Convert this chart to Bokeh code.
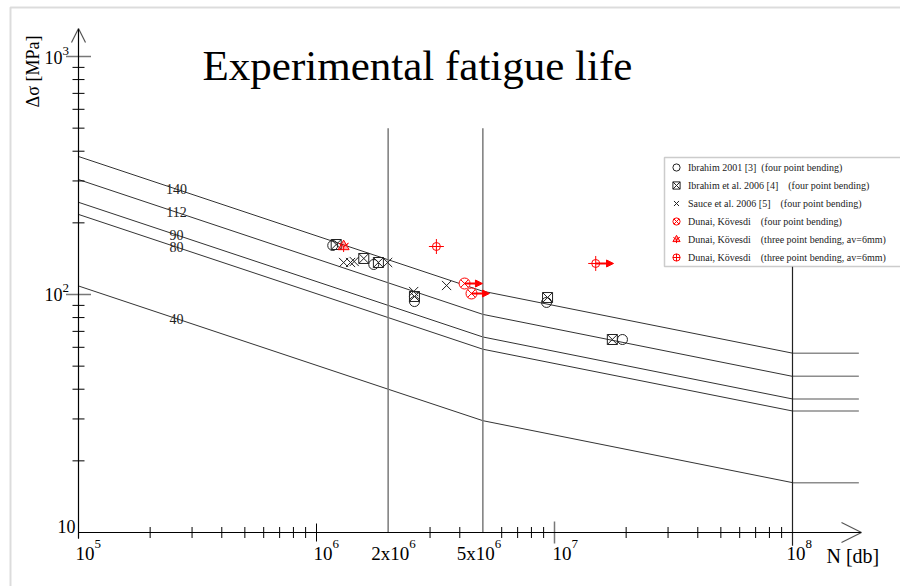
import math
from bokeh.plotting import figure
from bokeh.models import (Range1d, LogScale, Arrow, OpenHead, NormalHead, Legend,
                          LegendItem, BoxAnnotation)
from bokeh.core.properties import value
from bokeh.embed import file_html
from bokeh.resources import INLINE

# ---------------- data ----------------
# Detail categories (stress range at 2x10^6 cycles) and their S-N curves
categories = ["140", "112", "90", "80", "40"]
curve_N = [1e5, 2e6, 5e6, 1e8]          # knee points of the curves
cutoff_N = [1e8, 1.9e8]                 # horizontal cut-off part
S140 = [380.0, 140.0, 103.2, 56.7]
S112 = [304.0, 112.0, 82.5, 45.3]
S90 = [244.0, 90.0, 66.3, 36.4]
S80 = [217.0, 80.0, 58.9, 32.4]
S40 = [108.6, 40.0, 29.5, 16.2]
curves = [S140, S112, S90, S80, S40]
label_N = 2.58e5
label_S = [277.0, 222.0, 178.0, 158.0, 79.0]

# reference lines
ref_N = [2e6, 5e6]
ref_S = [10.0, 500.0]
end_N = 1e8
end_S = [8.8, 131.0]

# test results
ibr01_N = [1.17e6, 1.74e6, 2.58e6, 9.26e6, 1.93e7]
ibr01_S = [160.7, 133.7, 93.4, 92.6, 64.7]
ibr06_N = [1.21e6, 1.58e6, 1.82e6, 2.58e6, 9.35e6, 1.75e7]
ibr06_S = [162.2, 141.7, 136.3, 98.1, 97.1, 64.7]
sauce_N = [1.30e6, 1.39e6, 1.44e6, 1.99e6, 2.56e6, 3.52e6]
sauce_S = [136.3, 136.3, 137.6, 136.3, 102.9, 109.1]
dk4_N = [4.19e6, 4.48e6]
dk4_S = [111.2, 101.0]
dk3a_N = [1.30e6]
dk3a_S = [159.1]
dk3b_N = [3.19e6, 1.49e7]
dk3b_S = [159.1, 135.0]
# run-outs (arrows)
run_N0 = [4.19e6, 4.48e6, 1.49e7]
run_N1 = [4.98e6, 5.33e6, 1.77e7]
run_S = [111.2, 101.0, 135.0]

# axis ticks
x_major = [1e5, 1e6, 1e7, 1e8]
x_minor = [k * 10 ** e for e in (5, 6, 7) for k in range(2, 10) if k * 10 ** e not in (2e6, 5e6)]
y_minor = [k * 10 ** e for e in (1, 2) for k in range(2, 10)]
y_major = [100.0, 1000.0]

# ---------------- layout (pixels) ----------------
W, H = 900, 586
PX = 238.0           # pixels per decade
X0, Y0 = 78.0, 532.0  # pixel of N=1e5 and of S=10

def nx(px):
    return 10 ** (5 + (px - X0) / PX)

def sy(py):
    return 10 ** (1 + (Y0 - py) / PX)

FNAME = "Liberation Serif"
FONT = value(FNAME)

p = figure(width=W, height=H, output_backend="svg", toolbar_location=None,
           x_axis_type="log", y_axis_type="log",
           x_axis_location=None, y_axis_location=None,
           x_range=Range1d(nx(0), nx(W)), y_range=Range1d(sy(H), sy(0)),
           min_border=0, background_fill_color="white", border_fill_color="white")
p.x_scale = LogScale()
p.y_scale = LogScale()
p.grid.visible = False
p.outline_line_color = None

# slide frame
p.add_layout(BoxAnnotation(left=nx(10), right=1e12, top=sy(7), bottom=1e-3,
                           fill_alpha=0, line_color="#8a8a8a", line_width=2))

# ---------------- S-N curves ----------------
for S in curves:
    p.line(curve_N, S, line_color="#333333", line_width=1)
    p.line(cutoff_N, [S[-1], S[-1]], line_color="#8c8c8c", line_width=1.5)
p.text([label_N] * len(categories), label_S, text=categories, text_font=FONT,
       text_font_size="14px", text_align="center", text_baseline="middle", text_color="#222")

# reference verticals
for n in ref_N:
    p.line([n, n], ref_S, line_color="#7a7a7a", line_width=1.5)
p.line([end_N, end_N], end_S, line_color="#222", line_width=1.2)

# ---------------- axes ----------------
p.line([1e5, 1e5], [sy(Y0 + 6), 10], line_color="black", line_width=1.2)
p.add_layout(Arrow(x_start=1e5, y_start=10, x_end=nx(861), y_end=10,
                   line_color="black", line_width=1.2,
                   end=OpenHead(size=20, line_color="#555", line_width=1.2)))
p.add_layout(Arrow(x_start=1e5, y_start=10, x_end=1e5, y_end=sy(28),
                   line_color="black", line_width=1.2,
                   end=OpenHead(size=14, line_color="#555", line_width=1.2)))
p.scatter(x_minor, [10] * len(x_minor), marker="dash", angle=math.pi / 2, size=11,
          line_color="black", line_width=1)
p.scatter([1e5], [10], marker="dash", angle=math.pi / 2, size=12, line_color="black")
p.scatter([1e6], [10], marker="dash", angle=math.pi / 2, size=18, line_color="black")
p.scatter([1e7], [10], marker="dash", angle=math.pi / 2, size=22, line_color="#777", line_width=1.5)
p.scatter([1e5] * len(y_minor), y_minor, marker="dash", size=12, line_color="black")
p.scatter([1e5] * len(y_major), y_major, marker="dash", size=25, line_color="#777", line_width=1.5)

# x tick labels
xl_N = [1e5, 1e6, 2e6, 5e6, 1e7, 1e8]
xl_base = ["10", "10", "2x10", "5x10", "10", "10"]
xl_exp = ["5", "6", "6", "6", "7", "8"]
xl_off = [-3, -3, -17, -26, -2, -6]
xl_w = [19, 19, 38, 38, 19, 19]
for n, b, e, o, w in zip(xl_N, xl_base, xl_exp, xl_off, xl_w):
    p.text([n], [10], text=[b], x_offset=o, y_offset=21, text_font=FONT,
           text_font_size="19px", text_align="left", text_baseline="middle", text_color="black")
    p.text([n], [10], text=[e], x_offset=o + w, y_offset=11, text_font=FONT,
           text_font_size="13px", text_align="left", text_baseline="middle", text_color="black")
p.text([nx(826)], [10], text=["N [db]"], y_offset=23, text_font=FONT, text_font_size="20px",
       text_align="left", text_baseline="middle", text_color="black")

# y tick labels
yl_S = [10.0, 100.0, 1000.0]
yl_exp = ["", "2", "3"]
yl_right = [-3, -16, -16]
yl_dy = [-6, 0, 1]
for s, e, r, d in zip(yl_S, yl_exp, yl_right, yl_dy):
    p.text([1e5], [s], text=["10"], x_offset=r, y_offset=d, text_font=FONT,
           text_font_size="18px", text_align="right", text_baseline="middle", text_color="black")
    if e:
        p.text([1e5], [s], text=[e], x_offset=r, y_offset=d - 7, text_font=FONT,
               text_font_size="13px", text_align="left", text_baseline="middle", text_color="black")
p.text([nx(32)], [sy(71)], text=["Δσ [MPa]"], angle=math.pi / 2, text_font=FONT,
       text_font_size="18px", text_align="center", text_baseline="middle", text_color="black")

# title
p.text([nx(417)], [sy(65)], text=["Experimental fatigue life"], text_font=FONT,
       text_font_size="43px", text_align="center", text_baseline="middle", text_color="black")

# ---------------- test data ----------------
r1 = p.scatter(ibr01_N, ibr01_S, marker="circle", size=10, fill_color=None,
               line_color="#222", line_width=1)
r2 = p.scatter(ibr06_N, ibr06_S, marker="square_x", size=10, fill_color=None,
               line_color="#222", line_width=1)
r3 = p.scatter(sauce_N, sauce_S, marker="x", size=13, line_color="#222", line_width=1)
for n0, n1, s in zip(run_N0, run_N1, run_S):
    p.add_layout(Arrow(x_start=n0, y_start=s, x_end=n1, y_end=s, line_color="red",
                       line_width=2, end=NormalHead(size=7, fill_color="red", line_color="red")))
r4 = p.scatter(dk4_N, dk4_S, marker="circle_x", size=11, fill_color="white",
               line_color="red", line_width=1)
r5a = p.scatter(dk3a_N, dk3a_S, marker="triangle", size=11, fill_color="red", fill_alpha=0.35,
                line_color="red", line_width=1)
r5b = p.scatter(dk3a_N, dk3a_S, marker="y", size=11, line_color="red", line_width=1)
r6a = p.scatter(dk3b_N, dk3b_S, marker="circle", size=8, fill_color="white",
                line_color="red", line_width=1)
r6b = p.scatter(dk3b_N, dk3b_S, marker="cross", size=15, line_color="red", line_width=1)

# legend box (runs off the right edge, as in the slide)
p.add_layout(BoxAnnotation(left=nx(664), right=1e12, top=sy(157), bottom=sy(266),
                           fill_color="white", fill_alpha=1, line_color="#555", line_width=1.5))

nb = "\u00a0"
items = [
    LegendItem(label="Ibrahim 2001 [3]" + nb * 2 + "(four point bending)", renderers=[r1]),
    LegendItem(label="Ibrahim et al. 2006 [4]" + nb * 4 + "(four point bending)", renderers=[r2]),
    LegendItem(label="Sauce et al. 2006 [5]" + nb * 4 + "(four point bending)", renderers=[r3]),
    LegendItem(label="Dunai, Kövesdi" + nb * 4 + "(four point bending)", renderers=[r4]),
    LegendItem(label="Dunai, Kövesdi" + nb * 4 + "(three point bending, av=6mm)",
               renderers=[r5a, r5b]),
    LegendItem(label="Dunai, Kövesdi" + nb * 4 + "(three point bending, av=6mm)",
               renderers=[r6a, r6b]),
]
legend = Legend(items=items, location=(664, H - 266), margin=0, padding=1, spacing=0,
                glyph_width=24, glyph_height=18, label_height=18, label_standoff=0,
                label_text_font=FNAME, label_text_font_size="10px", label_text_color="#222",
                border_line_color=None, background_fill_alpha=0)
p.add_layout(legend, "center")

open("out.html", "w").write(file_html(p, INLINE))
